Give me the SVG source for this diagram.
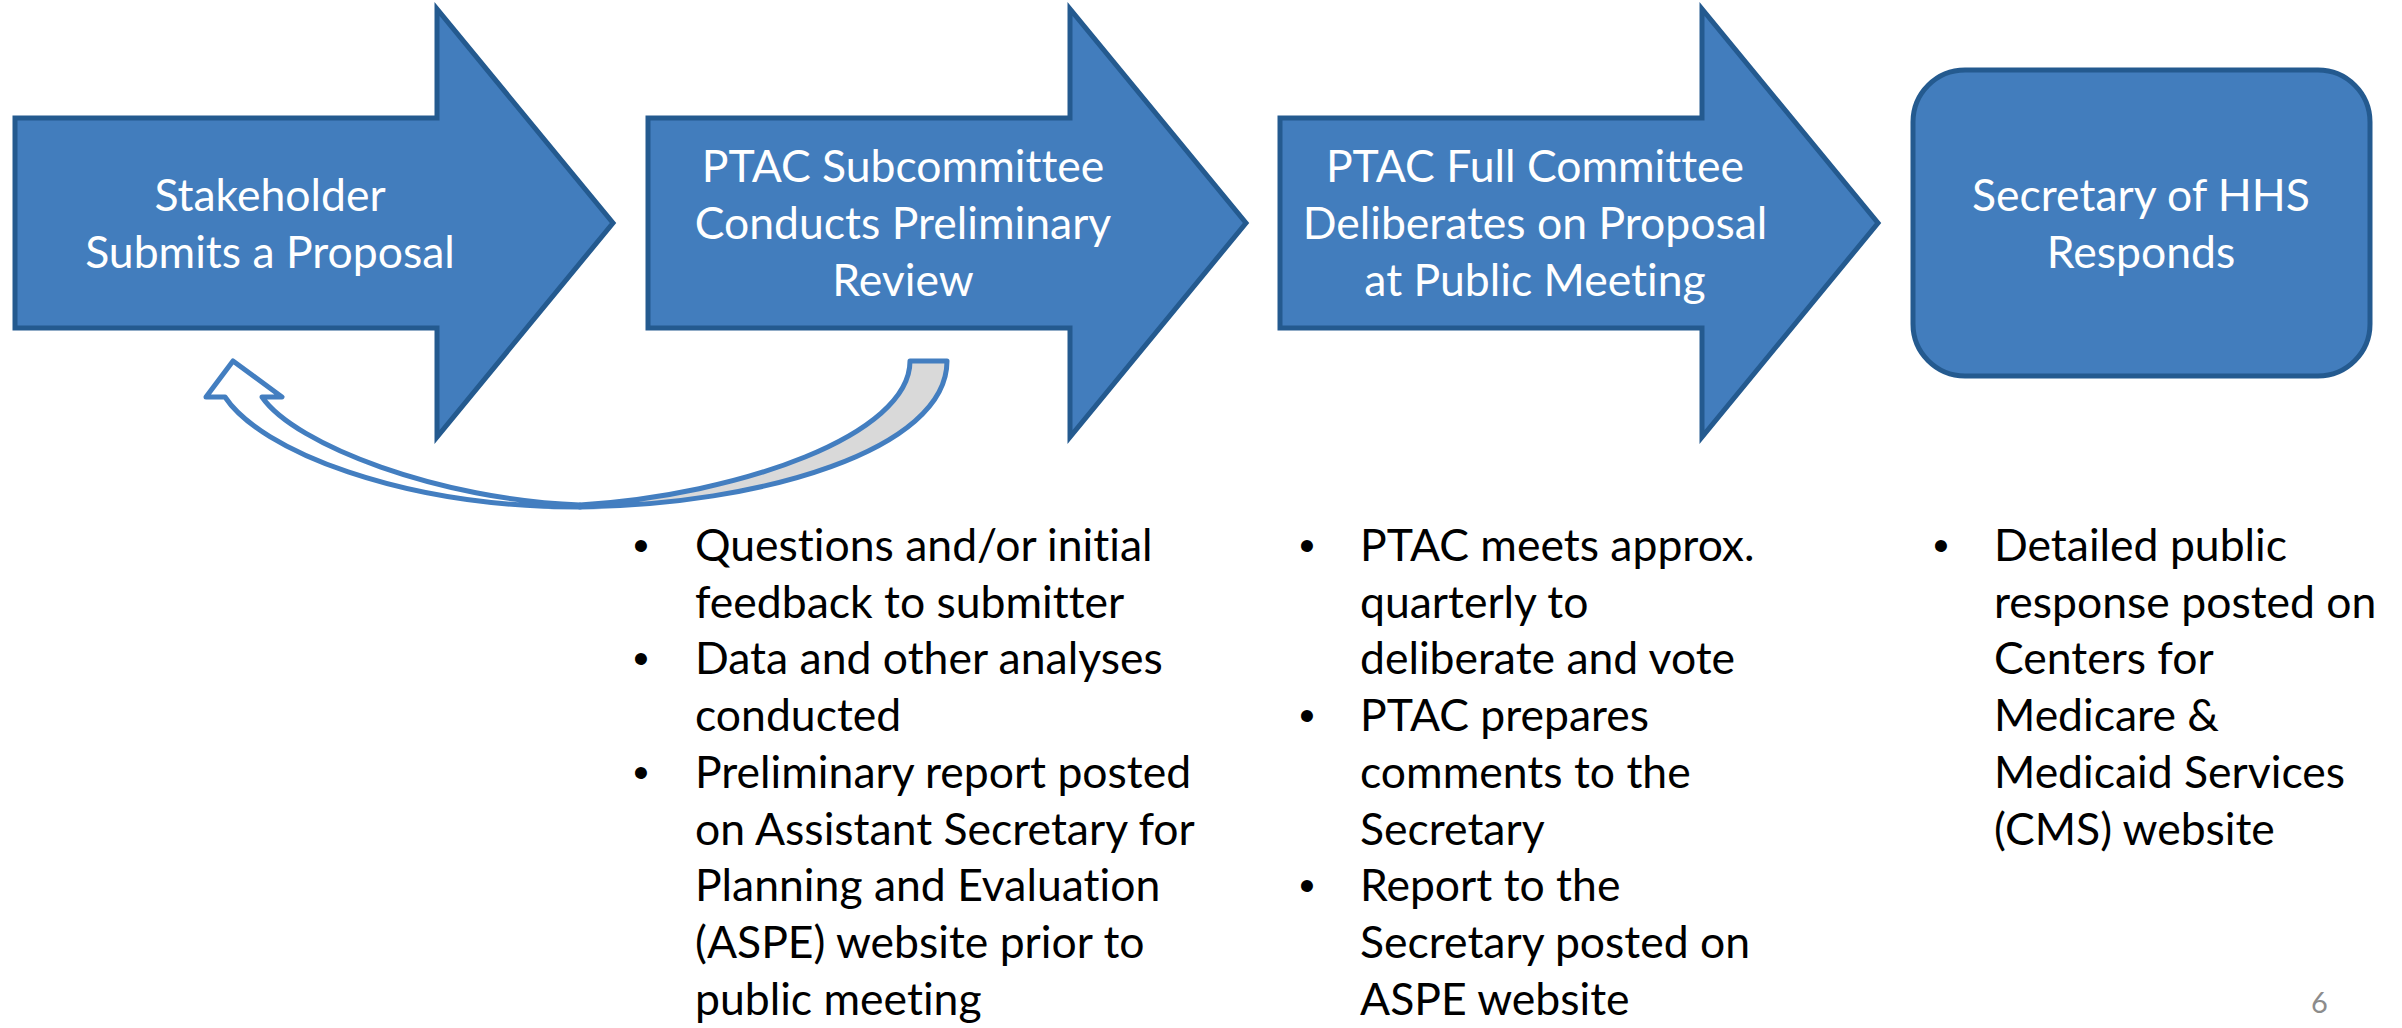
<svg xmlns="http://www.w3.org/2000/svg" width="2402" height="1028" viewBox="0 0 2402 1028">
<style>
text{font-variant-ligatures:none;font-feature-settings:"liga" 0,"clig" 0}
.step{fill:#427DBD;stroke:#245A8F;stroke-width:5;stroke-linejoin:miter}
.lbl{font-family:Lato,"Liberation Sans",sans-serif;font-size:44.5px;fill:#FFFFFF;text-anchor:middle}
.bul{font-family:Lato,"Liberation Sans",sans-serif;font-size:44.5px;fill:#000000}
.dot{font-family:"Liberation Sans",sans-serif;font-size:44px;fill:#000000;text-anchor:middle}
.loop{stroke:#437EC0;stroke-width:5;stroke-linejoin:round}
.pg{font-family:Lato,"Liberation Sans",sans-serif;font-size:29px;fill:#8C8C8C}
</style>
<rect width="2402" height="1028" fill="#FFFFFF"/>
<g id="connectors">
<path class="loop" fill="#D9D9D9" d="M910,361 L947,361 C947,450 760,505 580,507 L580,505 C740,495 910,435 910,361 Z"/>
<path class="loop" fill="#FFFFFF" d="M233,361 L282,397 L262,397 C295,445 440,500 580,505 L580,507 C400,507 260,450 225,397 L206,397 Z"/>
</g>
<g id="node-stakeholder">
<polygon class="step" points="15,118 437,118 437,9 613,223 437,437 437,328 15,328"/>
<text class="lbl" x="270" y="211">Stakeholder</text>
<text class="lbl" x="270" y="268">Submits a Proposal</text>
</g>
<g id="node-subcommittee">
<polygon class="step" points="648,118 1070,118 1070,9 1246,223 1070,437 1070,328 648,328"/>
<text class="lbl" x="903" y="182">PTAC Subcommittee</text>
<text class="lbl" x="903" y="239">Conducts Preliminary</text>
<text class="lbl" x="903" y="296">Review</text>
</g>
<g id="node-full-committee">
<polygon class="step" points="1280,118 1702,118 1702,9 1878,223 1702,437 1702,328 1280,328"/>
<text class="lbl" x="1535" y="182">PTAC Full Committee</text>
<text class="lbl" x="1535" y="239">Deliberates on Proposal</text>
<text class="lbl" x="1535" y="296">at Public Meeting</text>
</g>
<g id="node-secretary">
<rect class="step" x="1913" y="70" width="457" height="306" rx="52" ry="52"/>
<text class="lbl" x="2141" y="211">Secretary of HHS</text>
<text class="lbl" x="2141" y="268">Responds</text>
</g>
<g id="notes-subcommittee">
<text class="dot" x="641" y="561">•</text>
<text class="dot" x="641" y="674">•</text>
<text class="dot" x="641" y="788">•</text>
<text class="bul" x="695" y="561">Questions and/or initial</text>
<text class="bul" x="695" y="618">feedback to submitter</text>
<text class="bul" x="695" y="674">Data and other analyses</text>
<text class="bul" x="695" y="731">conducted</text>
<text class="bul" x="695" y="788">Preliminary report posted</text>
<text class="bul" x="695" y="845">on Assistant Secretary for</text>
<text class="bul" x="695" y="901">Planning and Evaluation</text>
<text class="bul" x="695" y="958">(ASPE) website prior to</text>
<text class="bul" x="695" y="1015">public meeting</text>
</g>
<g id="notes-full-committee">
<text class="dot" x="1307" y="561">•</text>
<text class="dot" x="1307" y="731">•</text>
<text class="dot" x="1307" y="901">•</text>
<text class="bul" x="1360" y="561">PTAC meets approx.</text>
<text class="bul" x="1360" y="618">quarterly to</text>
<text class="bul" x="1360" y="674">deliberate and vote</text>
<text class="bul" x="1360" y="731">PTAC prepares</text>
<text class="bul" x="1360" y="788">comments to the</text>
<text class="bul" x="1360" y="845">Secretary</text>
<text class="bul" x="1360" y="901">Report to the</text>
<text class="bul" x="1360" y="958">Secretary posted on</text>
<text class="bul" x="1360" y="1015">ASPE website</text>
</g>
<g id="notes-secretary">
<text class="dot" x="1941" y="561">•</text>
<text class="bul" x="1994" y="561">Detailed public</text>
<text class="bul" x="1994" y="618">response posted on</text>
<text class="bul" x="1994" y="674">Centers for</text>
<text class="bul" x="1994" y="731">Medicare &amp;</text>
<text class="bul" x="1994" y="788">Medicaid Services</text>
<text class="bul" x="1994" y="845">(CMS) website</text>
</g>
<text class="pg" x="2311" y="1013">6</text>
</svg>
